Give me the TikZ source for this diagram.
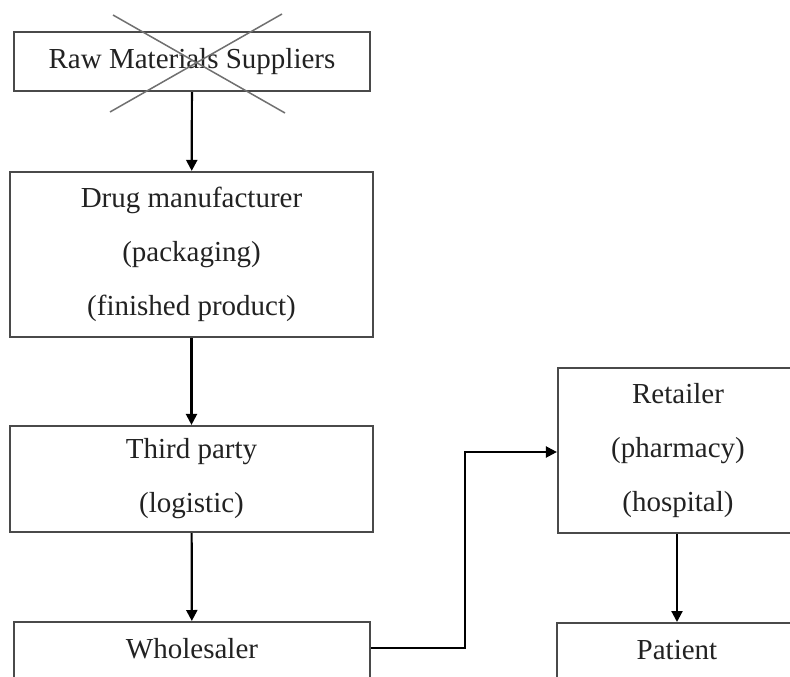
\documentclass[tikz,border=0pt]{standalone}
\usepackage{fontspec}
\setmainfont{Liberation Serif}
\usetikzlibrary{arrows.meta}
\definecolor{boxgray}{HTML}{4A4A4A}
\definecolor{crossgray}{HTML}{707070}
\definecolor{txt}{HTML}{222222}
\begin{document}
\begin{tikzpicture}[x=1pt,y=-1pt,
  box/.style={draw=boxgray,line width=2.2pt,inner sep=0pt,align=center,
    text=txt,font=\fontsize{29}{54}\selectfont},
  flow/.style={draw=black,line width=2.2pt,-{Triangle[length=11pt,width=11pt]}},
  crossline/.style={draw=crossgray,line width=1.5pt}]
\useasboundingbox (0,0) rectangle (790,677);
\clip (0,0) rectangle (790,677);
\fill[white] (0,0) rectangle (790,677);
\node[box,minimum width=356pt,minimum height=59pt] (raw) at (192,61.5) {Raw Materials Suppliers};
\node[box,minimum width=363pt,minimum height=165pt] (drug) at (191.5,254.5)
  {Drug manufacturer\\(packaging)\\(finished product)};
\node[box,minimum width=363pt,minimum height=106pt] (third) at (191.5,479)
  {Third party\\(logistic)};
\node[box,anchor=north,minimum width=356pt,inner ysep=16pt,text height=20pt,text depth=90pt] (wh) at (192,621)
  {Wholesaler};
\node[box,minimum width=240pt,minimum height=165pt] (ret) at (678,450.5)
  {Retailer\\(pharmacy)\\(hospital)};
\node[box,anchor=north,minimum width=240pt,inner ysep=16pt,text height=20pt,text depth=90pt] (pat) at (677,622)
  {Patient};
\coordinate (c1) at (113,15);
\coordinate (c2) at (285,113);
\coordinate (c3) at (282,14);
\coordinate (c4) at (110,112);
\draw[crossline] (c1) -- (c2);
\draw[crossline] (c3) -- (c4);
\draw[flow] (raw) -- (drug);
\draw[flow] (drug) -- (third);
\draw[flow] (third) -- (wh);
\draw[flow] ([yshift=-27pt]wh.north east) -- ++(94,0) |- ([yshift=-1.5pt]ret.west);
\draw[flow] (ret.south -| pat.north) -- (pat.north);
\end{tikzpicture}
\end{document}
